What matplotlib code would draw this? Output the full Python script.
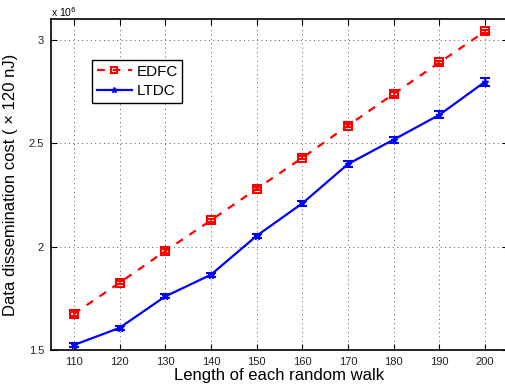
import matplotlib
matplotlib.use("Agg")
import matplotlib.pyplot as plt

plt.rcParams['font.family'] = ['Liberation Sans', 'DejaVu Sans']

walk_length = [110, 120, 130, 140, 150, 160, 170, 180, 190, 200]
edfc = [1.674, 1.825, 1.978, 2.127, 2.279, 2.429, 2.585, 2.738, 2.890, 3.040]
edfc_err = [0.008, 0.008, 0.008, 0.008, 0.008, 0.008, 0.008, 0.008, 0.008, 0.008]
ltdc = [1.524, 1.607, 1.759, 1.864, 2.052, 2.209, 2.399, 2.517, 2.637, 2.797]
ltdc_err = [0.008, 0.008, 0.010, 0.010, 0.011, 0.012, 0.014, 0.015, 0.017, 0.020]
xticks = [110, 120, 130, 140, 150, 160, 170, 180, 190, 200]
yticks = [1.5, 2.0, 2.5, 3.0]
ytick_labels = ['1.5', '2', '2.5', '3']

fig = plt.figure(figsize=(5.06, 3.88), dpi=100)
ax = fig.add_axes([51/506, 1-350/388, 457/506, 331/388])

e1 = ax.errorbar(walk_length, edfc, yerr=edfc_err, color='#ff0000', ls=(0, (3.5, 3.5)), lw=1.6,
                 marker='s', ms=5.5, mfc='none', mec='#ff0000', mew=1.5, capsize=3, elinewidth=1.2)
e2 = ax.errorbar(walk_length, ltdc, yerr=ltdc_err, color='#0000ff', ls='-', lw=1.6,
                 marker='*', ms=5, mfc='#0000ff', mec='#0000ff', capsize=3.5, elinewidth=1.5,
                 capthick=1.5)

ax.set_xlim(105, 205)
ax.set_ylim(1.5, 3.1)
ax.set_xticks(xticks)
ax.set_yticks(yticks)
ax.set_yticklabels(ytick_labels)
ax.tick_params(direction='in', top=True, right=True, labelsize=8, length=4, width=0.8, pad=5,
               labelcolor='#222222')
ax.grid(True, ls=(0, (1, 3.5)), color='#555555', lw=0.7)
for s in ax.spines.values():
    s.set_linewidth(1.2)

ax.set_xlabel('Length of each random walk', fontsize=12, labelpad=1)
ax.set_ylabel('Data dissemination cost ( \u00d7 120 nJ)', fontsize=12, labelpad=8)
fig.text(51/506, 1-12/388, 'x 10$^{6}$', fontsize=7.5, va='center', ha='left')

leg = ax.legend([e1[0], e2[0]], ['EDFC', 'LTDC'], loc='upper left',
                bbox_to_anchor=((92-51)/457, (350-60)/331), borderaxespad=0, fontsize=11,
                frameon=True, fancybox=False, edgecolor='black', framealpha=1,
                handlelength=2.3, borderpad=0.3, labelspacing=0.35, handletextpad=0.3,
                markerscale=0.8)
leg.get_frame().set_linewidth(1.0)

fig.savefig('out.png', dpi=100)
